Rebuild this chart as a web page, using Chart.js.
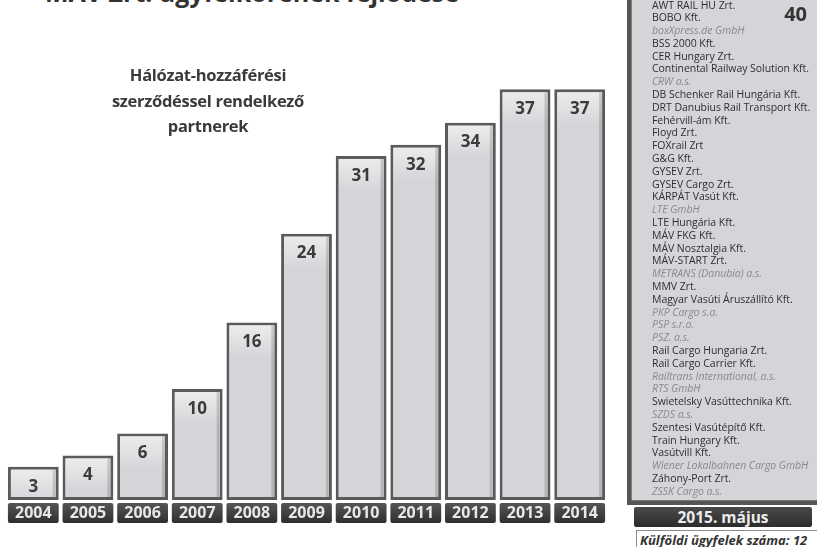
<!DOCTYPE html>
<html><head><meta charset="utf-8">
<script src="https://cdn.jsdelivr.net/npm/chart.js@4.4.1/dist/chart.umd.min.js"></script>
<style>
html,body{margin:0;padding:0;width:817px;height:547px;overflow:hidden;background:#fff;font-family:'Open Sans',sans-serif;position:relative;}
#mainWrap{position:absolute;left:0;top:0;width:620px;height:547px;}
#sideWrap{position:absolute;left:627px;top:-10px;width:200px;height:515px;}
#title{position:absolute;left:45px;top:-25px;font:bold 25px 'Open Sans';color:#333;white-space:nowrap;line-height:normal;}
#subtitle{position:absolute;left:58px;top:62px;width:300px;text-align:center;font:bold 16.5px 'Open Sans';color:#3a3a3a;line-height:25.5px;letter-spacing:-0.3px;}
#list{position:absolute;left:652px;top:-1.5px;font:10.5px 'Open Sans';line-height:12.8px;color:#2f2f2f;white-space:nowrap;letter-spacing:-0.05px;}
#list .f{font-style:italic;color:#8a8a8a;}
#may{position:absolute;left:634px;top:507px;width:178px;height:20px;background:linear-gradient(#4a4a4a,#2c2c2c);border-radius:2px;color:#ececec;font:bold 15.5px 'Open Sans';text-align:center;line-height:20px;}
#foreign{position:absolute;left:636px;top:530px;width:190px;height:24px;border:1px solid #8c8c8c;box-sizing:border-box;font:italic bold 13px 'Open Sans';color:#333;line-height:18px;padding-left:3px;white-space:nowrap;}
</style></head><body>
<div id="title"></div>
<div id="mainWrap"><canvas id="main"></canvas></div>
<div id="sideWrap"><canvas id="side"></canvas></div>
<div id="subtitle"></div>
<div id="list"></div>
<div id="may"></div>
<div id="foreign"></div>
<script>
// ---- data ----
const titleText = 'MÁV Zrt. ügyfélkörének fejlődése';
const subtitleLines = ['Hálózat-hozzáférési', 'szerződéssel rendelkező', 'partnerek'];
const years = ['2004','2005','2006','2007','2008','2009','2010','2011','2012','2013','2014'];
const partnerCounts = [3, 4, 6, 10, 16, 24, 31, 32, 34, 37, 37];
const currentLabel = '2015. május';
const currentCount = [40];
const foreignLabel = 'Külföldi ügyfelek száma: 12';
const partnerNames = [
 'AWT RAIL HU Zrt.','BOBO Kft.','boxXpress.de GmbH','BSS 2000 Kft.','CER Hungary Zrt.',
 'Continental Railway Solution Kft.','CRW a.s.','DB Schenker Rail Hungária Kft.','DRT Danubius Rail Transport Kft.',
 'Fehérvill-ám Kft.','Floyd Zrt.','FOXrail Zrt','G&G Kft.','GYSEV Zrt.','GYSEV Cargo Zrt.','KÁRPÁT Vasút Kft.',
 'LTE GmbH','LTE Hungária Kft.','MÁV FKG Kft.','MÁV Nosztalgia Kft.','MÁV-START Zrt.','METRANS (Danubia) a.s.',
 'MMV Zrt.','Magyar Vasúti Áruszállító Kft.','PKP Cargo s.a.','PSP s.r.o.','PSZ. a.s.','Rail Cargo Hungaria Zrt.',
 'Rail Cargo Carrier Kft.','Railtrans International, a.s.','RTS GmbH','Swietelsky Vasúttechnika Kft.','SZDS a.s.',
 'Szentesi Vasútépítő Kft.','Train Hungary Kft.','Vasútvill Kft.','Wiener Lokalbahnen Cargo GmbH','Záhony-Port Zrt.','ZSSK Cargo a.s.'
];
const partnerForeign = [0,0,1,0,0,0,1,0,0,0,0,0,0,0,0,0,1,0,0,0,0,1,0,0,1,1,1,0,0,1,1,0,1,0,0,0,1,0,1];

// ---- texts ----
document.getElementById('title').textContent = titleText;
document.getElementById('subtitle').innerHTML = subtitleLines.join('<br>');
document.getElementById('list').innerHTML = partnerNames.map((n,i)=>
  '<div'+(partnerForeign[i]?' class="f"':'')+'>'+n.replace(/&/g,'&amp;')+'</div>').join('');
document.getElementById('may').textContent = currentLabel;
document.getElementById('foreign').textContent = foreignLabel;

const FONT = "'Open Sans'";

const decor = {
  id:'decor',
  afterDatasetsDraw(chart){
    const ctx = chart.ctx;
    const meta = chart.getDatasetMeta(0);
    meta.data.forEach((bar,i)=>{
      const w = bar.width, x0 = bar.x - w/2, top = bar.y, bottom = bar.base;
      ctx.save();
      const g = ctx.createLinearGradient(0, top+3, 0, top+36);
      g.addColorStop(0,'rgba(255,255,255,0.55)');
      g.addColorStop(1,'rgba(255,255,255,0)');
      ctx.fillStyle = g;
      ctx.fillRect(x0+3, top+3, w-6, Math.min(33, bottom-top-6));
      ctx.fillStyle = 'rgba(0,0,0,0.15)';
      ctx.fillRect(x0+w-6, top+3, 3, bottom-top-6);
      ctx.fillStyle = '#3b3b3b';
      ctx.font = 'bold 17px ' + FONT;
      ctx.textAlign = 'center';
      ctx.textBaseline = 'middle';
      ctx.fillText(String(partnerCounts[i]), bar.x, top + 20);
      const by = 503, bh = 20;
      const yg = ctx.createLinearGradient(0, by, 0, by+bh);
      yg.addColorStop(0,'#565656');
      yg.addColorStop(1,'#2e2e2e');
      ctx.fillStyle = yg;
      ctx.beginPath();
      ctx.roundRect(x0, by, w, bh, 2);
      ctx.fill();
      ctx.fillStyle = '#e8e8e8';
      ctx.font = 'bold 16px ' + FONT;
      ctx.fillText(years[i], bar.x, by + bh/2 + 0.5);
      ctx.restore();
    });
  }
};

new Chart(document.getElementById('main'), {
  type:'bar',
  data:{ labels: years, datasets:[{ data: partnerCounts,
    backgroundColor:'#d4d5d8', borderColor:'#5a5a5a', borderWidth:3, borderSkipped:false,
    barPercentage:0.93, categoryPercentage:1 }]},
  options:{
    responsive:true, maintainAspectRatio:false, animation:false,
    layout:{ padding:{ left:6, right:13, top:0, bottom:47 } },
    plugins:{ legend:{display:false}, tooltip:{enabled:false} },
    scales:{
      x:{ display:false },
      y:{ display:false, min:0, max:45.05 }
    }
  },
  plugins:[decor]
});

const sideDecor = {
  id:'sideDecor',
  afterDatasetsDraw(chart){
    const ctx = chart.ctx;
    const bar = chart.getDatasetMeta(0).data[0];
    ctx.save();
    ctx.fillStyle = '#333';
    ctx.font = 'bold 20px ' + FONT;
    ctx.textAlign = 'right';
    ctx.textBaseline = 'middle';
    ctx.fillText(String(currentCount[0]), 180, bar.y + 25);
    ctx.restore();
  }
};

new Chart(document.getElementById('side'), {
  type:'bar',
  data:{ labels:[currentLabel], datasets:[{ data: currentCount,
    backgroundColor:'#d4d5d8', borderColor:'#555', borderWidth:5, borderSkipped:false,
    barPercentage:1, categoryPercentage:1 }]},
  options:{
    responsive:true, maintainAspectRatio:false, animation:false,
    layout:{ padding:0 },
    plugins:{ legend:{display:false}, tooltip:{enabled:false} },
    scales:{ x:{display:false}, y:{display:false, min:0, max:40} }
  },
  plugins:[sideDecor]
});
</script>
</body></html>
